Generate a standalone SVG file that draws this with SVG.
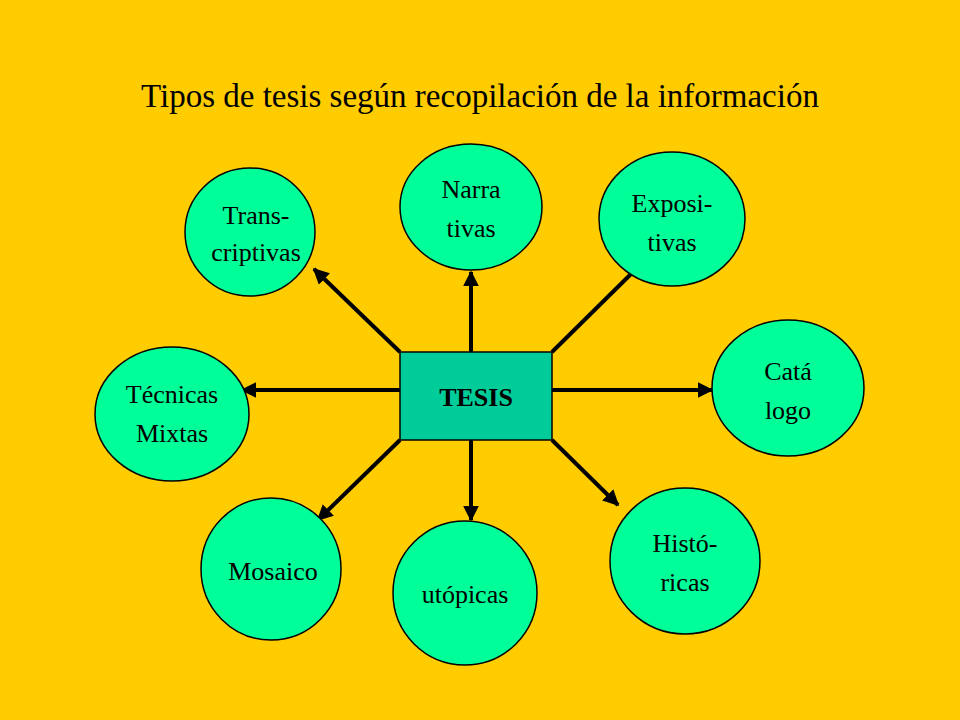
<svg xmlns="http://www.w3.org/2000/svg" width="960" height="720" viewBox="0 0 960 720">
<style>
.n{fill:#00FF99;stroke:#000;stroke-width:1.5}
.t{font-family:"Liberation Serif",serif;font-size:26px;text-anchor:middle;fill:#000}
.c line{stroke:#000;stroke-width:4}
</style>
<defs><marker id="a" viewBox="0 0 10 10" refX="9" refY="5" markerWidth="4" markerHeight="4" orient="auto"><path d="M0,0L10,5L0,10z"/></marker></defs>
<rect width="960" height="720" fill="#FFCC00"/>
<text x="480" y="107" style="font-family:'Liberation Serif',serif;font-size:33px;text-anchor:middle">Tipos de tesis según recopilación de la información</text>
<g class="c">
<line x1="400" y1="352" x2="314" y2="269" marker-end="url(#a)"/>
<line x1="471" y1="352" x2="471" y2="272" marker-end="url(#a)"/>
<line x1="552" y1="352" x2="632" y2="273"/>
<line x1="552" y1="390" x2="712" y2="390" marker-end="url(#a)"/>
<line x1="552" y1="440" x2="618" y2="505" marker-end="url(#a)"/>
<line x1="471" y1="440" x2="471" y2="520" marker-end="url(#a)"/>
<line x1="400" y1="440" x2="318" y2="520" marker-end="url(#a)"/>
<line x1="400" y1="390" x2="242" y2="390" marker-end="url(#a)"/>
</g>
<g id="tesis"><rect x="400" y="352" width="152" height="88" fill="#00CC99" stroke="#000" stroke-width="1.5"/><text class="t" x="476" y="406" font-weight="bold">TESIS</text></g>
<g id="trans"><ellipse class="n" cx="250" cy="232" rx="65" ry="64"/><text class="t" x="256" y="224">Trans-</text><text class="t" x="256" y="261">criptivas</text></g>
<g id="narra"><ellipse class="n" cx="471" cy="207" rx="71" ry="63"/><text class="t" x="471" y="198">Narra</text><text class="t" x="471" y="237">tivas</text></g>
<g id="expo"><ellipse class="n" cx="672" cy="219" rx="73" ry="67"/><text class="t" x="672" y="212">Exposi-</text><text class="t" x="672" y="251">tivas</text></g>
<g id="cata"><ellipse class="n" cx="788" cy="388" rx="76" ry="68"/><text class="t" x="788" y="380">Catá</text><text class="t" x="788" y="419">logo</text></g>
<g id="hist"><ellipse class="n" cx="685" cy="561" rx="75" ry="73"/><text class="t" x="685" y="552">Histó-</text><text class="t" x="685" y="591">ricas</text></g>
<g id="uto"><ellipse class="n" cx="465" cy="593" rx="72" ry="72"/><text class="t" x="465" y="603">utópicas</text></g>
<g id="mos"><ellipse class="n" cx="271" cy="569" rx="70" ry="71"/><text class="t" x="273" y="580">Mosaico</text></g>
<g id="tec"><ellipse class="n" cx="172" cy="414" rx="77" ry="67"/><text class="t" x="172" y="403">Técnicas</text><text class="t" x="172" y="442">Mixtas</text></g>
</svg>
